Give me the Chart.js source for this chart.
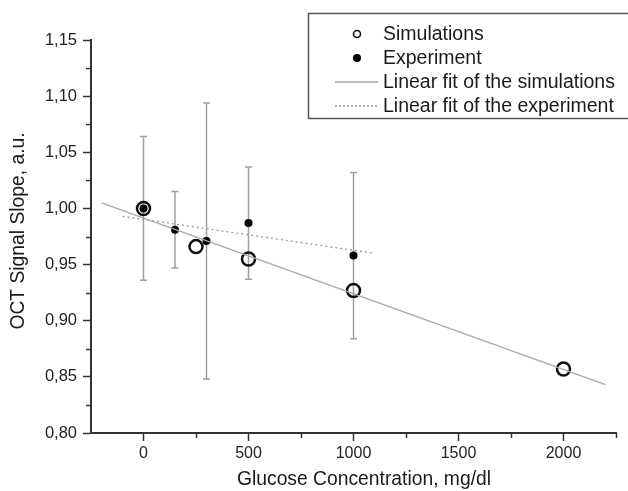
<!DOCTYPE html>
<html>
<head>
<meta charset="utf-8">
<script src="https://cdn.jsdelivr.net/npm/chart.js@4.4.1/dist/chart.umd.min.js"></script>
<style>
    html, body { margin: 0; padding: 0; background: #fff; }
    #wrap { width: 628px; height: 491px; }
</style>
</head>
<body>
<div id="wrap"><canvas id="chart" width="628" height="491"></canvas></div>
<script>
// Data
const simX = [0, 250, 500, 1000, 2000];
const simY = [1.000, 0.966, 0.955, 0.927, 0.857];

const expX = [0, 150, 300, 500, 1000];
const expY = [1.000, 0.981, 0.971, 0.987, 0.958];
const expErr = [0.064, 0.034, 0.123, 0.050, 0.074];

// Fit lines (end points as drawn)
const simFitX = [-200, 2200];
const simFitY = [1.005, 0.843];
const expFitX = [-100, 1100];
const expFitY = [0.993, 0.960];

// Axis ticks
const xTicks = [0, 500, 1000, 1500, 2000];
const xMinor = [250, 750, 1250, 1750, 2250];
const yTicks = [0.80, 0.85, 0.90, 0.95, 1.00, 1.05, 1.10, 1.15];
const yMinor = [0.825, 0.875, 0.925, 0.975, 1.025, 1.075, 1.125];

const legendLabels = ['Simulations', 'Experiment', 'Linear fit of the simulations', 'Linear fit of the experiment'];

const FONT = '"Liberation Sans", Arial, sans-serif';
const AXIS = '#333';

function toPoints(xs, ys) {
    return xs.map((x, i) => ({ x: x, y: ys[i] }));
}

// Error bars, minor ticks, axis titles and the boxed legend
const extras = {
    id: 'extras',
    beforeDatasetsDraw(chart) {
        const ctx = chart.ctx;
        const xs = chart.scales.x, ys = chart.scales.y;
        ctx.save();
        ctx.strokeStyle = '#a0a0a0';
        ctx.lineWidth = 1.5;
        expX.forEach((x, i) => {
            const px = xs.getPixelForValue(x);
            const top = ys.getPixelForValue(expY[i] + expErr[i]);
            const bot = ys.getPixelForValue(expY[i] - expErr[i]);
            ctx.beginPath();
            ctx.moveTo(px, top); ctx.lineTo(px, bot);
            ctx.moveTo(px - 3.5, top); ctx.lineTo(px + 3.5, top);
            ctx.moveTo(px - 3.5, bot); ctx.lineTo(px + 3.5, bot);
            ctx.stroke();
        });
        ctx.restore();
    },
    afterDraw(chart) {
        const ctx = chart.ctx;
        const xs = chart.scales.x, ys = chart.scales.y;
        const area = chart.chartArea;
        ctx.save();

        // minor ticks
        ctx.strokeStyle = AXIS;
        ctx.lineWidth = 1.5;
        ctx.beginPath();
        xMinor.forEach(v => {
            const px = Math.round(xs.getPixelForValue(v)) + 0.5;
            ctx.moveTo(px, area.bottom); ctx.lineTo(px, area.bottom + 5);
        });
        yMinor.forEach(v => {
            const py = Math.round(ys.getPixelForValue(v)) + 0.5;
            ctx.moveTo(area.left, py); ctx.lineTo(area.left - 5, py);
        });
        ctx.stroke();

        // axis titles
        ctx.fillStyle = '#1a1a1a';
        ctx.font = '19.3px ' + FONT;
        ctx.textAlign = 'center';
        ctx.textBaseline = 'middle';
        ctx.fillText('Glucose Concentration, mg/dl', 364, 480);
        ctx.save();
        ctx.translate(19, 231);
        ctx.rotate(-Math.PI / 2);
        ctx.fillText('OCT Signal Slope, a.u.', 0, 0);
        ctx.restore();

        // legend box
        ctx.strokeStyle = '#555';
        ctx.lineWidth = 1.5;
        ctx.strokeRect(308.5, 13.5, 340, 105);

        const rows = [34, 58, 82, 106];
        ctx.textAlign = 'left';
        ctx.font = '19.5px ' + FONT;
        // Simulations: open circle
        ctx.strokeStyle = '#111';
        ctx.lineWidth = 1.6;
        ctx.beginPath(); ctx.arc(357, rows[0], 3.5, 0, Math.PI * 2); ctx.stroke();
        // Experiment: filled circle
        ctx.fillStyle = '#000';
        ctx.beginPath(); ctx.arc(357, rows[1], 4, 0, Math.PI * 2); ctx.fill();
        // solid fit
        ctx.strokeStyle = '#a8a8a8';
        ctx.lineWidth = 1.3;
        ctx.beginPath(); ctx.moveTo(335, rows[2]); ctx.lineTo(378, rows[2]); ctx.stroke();
        // dotted fit
        ctx.strokeStyle = '#999';
        ctx.setLineDash([2, 2]);
        ctx.beginPath(); ctx.moveTo(335, rows[3]); ctx.lineTo(378, rows[3]); ctx.stroke();
        ctx.setLineDash([]);

        ctx.fillStyle = '#1a1a1a';
        legendLabels.forEach((t, i) => ctx.fillText(t, 383, rows[i] + 1));
        ctx.restore();
    }
};

new Chart(document.getElementById('chart').getContext('2d'), {
    type: 'scatter',
    data: {
        datasets: [
            {
                label: legendLabels[2],
                data: toPoints(simFitX, simFitY),
                showLine: true,
                borderColor: '#a8a8a8',
                borderWidth: 1.3,
                pointRadius: 0
            },
            {
                label: legendLabels[3],
                data: toPoints(expFitX, expFitY),
                showLine: true,
                borderColor: '#999',
                borderWidth: 1.3,
                borderDash: [2, 3],
                pointRadius: 0
            },
            {
                label: legendLabels[1],
                data: toPoints(expX, expY),
                pointRadius: 4,
                pointBackgroundColor: '#000',
                pointBorderWidth: 0
            },
            {
                label: legendLabels[0],
                data: toPoints(simX, simY),
                pointRadius: 6.5,
                pointBackgroundColor: 'rgba(0,0,0,0)',
                pointBorderColor: '#111',
                pointBorderWidth: 2.5
            }
        ]
    },
    options: {
        responsive: false,
        animation: false,
        layout: { padding: { top: 40, right: 12, left: 0, bottom: 0 } },
        plugins: {
            legend: { display: false },
            tooltip: { enabled: false }
        },
        scales: {
            x: {
                type: 'linear',
                min: -250,
                max: 2250,
                afterBuildTicks: s => { s.ticks = xTicks.map(v => ({ value: v })); },
                afterFit: s => { s.height = 58; },
                grid: { drawOnChartArea: false, tickLength: 8, tickWidth: 1.5, color: AXIS },
                border: { color: AXIS, width: 2 },
                ticks: {
                    color: '#222',
                    padding: 3,
                    maxRotation: 0,
                    font: { family: FONT, size: 16 },
                    callback: v => String(v)
                }
            },
            y: {
                type: 'linear',
                min: 0.80,
                max: 1.15,
                afterBuildTicks: s => { s.ticks = yTicks.map(v => ({ value: v })); },
                afterFit: s => { s.width = 91; },
                grid: { drawOnChartArea: false, tickLength: 8, tickWidth: 1.5, color: AXIS },
                border: { color: AXIS, width: 2 },
                ticks: {
                    color: '#222',
                    padding: 6,
                    font: { family: FONT, size: 16.5 },
                    callback: v => v.toFixed(2).replace('.', ',')
                }
            }
        }
    },
    plugins: [extras]
});
</script>
</body>
</html>
